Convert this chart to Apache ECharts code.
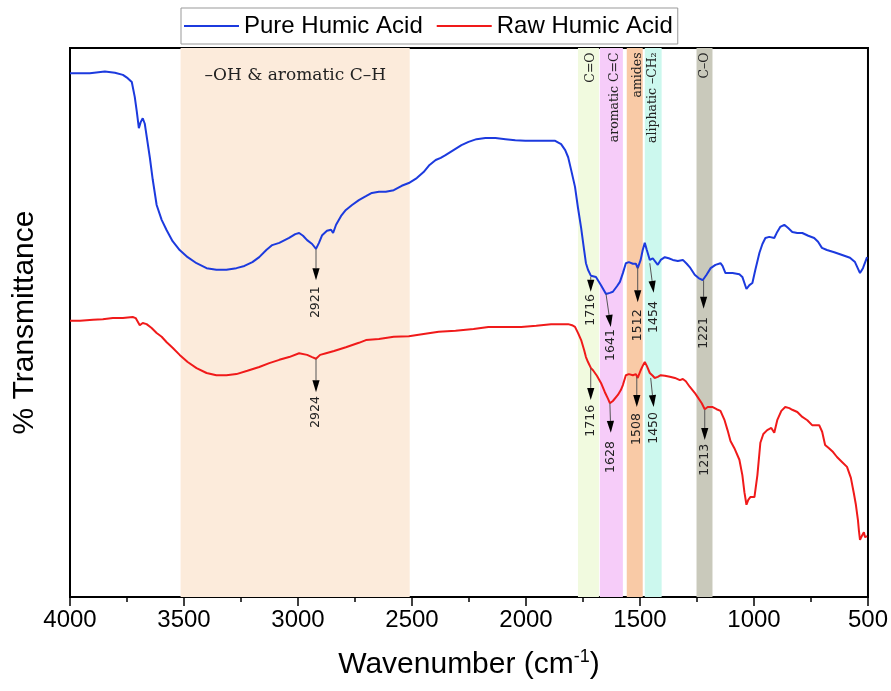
<!DOCTYPE html>
<html><head><meta charset="utf-8">
<script src="https://cdn.jsdelivr.net/npm/echarts@6/dist/echarts.min.js"></script>
<style>html,body{margin:0;padding:0;background:#fff}#c{width:891px;height:691px}</style>
</head><body><div id="c"></div>
<script>
// ---- data ----
const seriesNames = ['Pure Humic Acid', 'Raw Humic Acid'];
const xTickLabels = [4000, 3500, 3000, 2500, 2000, 1500, 1000, 500];

const pureWn = [4000,3913,3847,3803,3768,3747,3729,3716,3707,3698,3690,3681,3672,3668,3650,3637,3620,3598,3576,3550,3519,3484,3445,3401,3358,3314,3270,3235,3200,3170,3139,3113,3082,3039,3012,2995,2978,2960,2938,2921,2908,2894,2873,2855,2846,2833,2811,2790,2763,2733,2702,2676,2645,2615,2580,2545,2514,2479,2449,2423,2396,2374,2353,2318,2283,2252,2217,2178,2134,2090,2047,2003,1959,1916,1872,1846,1828,1815,1802,1785,1772,1758,1745,1737,1728,1715,1693,1671,1649,1632,1619,1601,1588,1575,1562,1549,1531,1518,1510,1497,1488,1479,1470,1457,1444,1436,1422,1409,1391,1374,1356,1334,1312,1295,1282,1260,1243,1225,1208,1190,1169,1147,1138,1125,1094,1064,1051,1033,1020,1007,994,976,963,950,933,911,898,885,867,850,832,810,788,762,736,719,702,680,648,613,579,557,535,522,504];
const pureT = [95.4,95.4,95.7,95.5,95.1,94.5,93.8,91.1,88.4,85.4,86.5,87.2,86.2,85.1,80.1,76.0,71.4,68.7,66.8,64.8,63.2,61.9,60.8,59.9,59.6,59.6,59.9,60.3,61.0,61.9,63.2,64.1,64.5,65.4,66.1,66.3,65.8,65.0,64.3,63.4,64.5,65.9,66.7,66.9,66.3,67.8,69.4,70.5,71.4,72.3,73.0,73.6,73.8,73.8,74.1,74.9,75.4,76.3,77.4,78.7,79.6,80.0,80.5,81.4,82.3,82.9,83.4,83.6,83.6,83.4,83.2,83.1,83.1,83.1,83.1,82.5,81.4,80.1,77.8,74.7,70.9,67.2,63.2,60.8,59.6,58.5,58.3,56.8,55.2,55.4,55.6,56.6,57.4,59.0,60.8,61.0,60.7,60.7,59.9,61.4,63.2,64.5,63.2,61.4,61.7,61.4,60.5,61.4,61.9,61.7,61.4,61.2,61.4,60.7,60.1,58.7,58.1,57.7,58.7,59.9,60.5,60.8,60.3,59.0,59.0,58.8,58.3,56.1,56.8,57.2,59.6,62.7,64.3,65.4,65.6,65.4,66.5,67.4,67.8,67.2,66.5,66.3,66.3,65.8,65.4,64.7,63.6,63.2,62.8,62.3,61.8,61.0,59.0,59.9,61.9];

const rawWn = [4000,3956,3899,3856,3812,3768,3725,3712,3694,3681,3664,3642,3620,3598,3576,3550,3519,3484,3445,3401,3358,3314,3270,3222,3170,3126,3082,3039,2995,2960,2938,2921,2903,2877,2842,2790,2733,2702,2645,2580,2514,2449,2383,2309,2230,2165,2099,2021,1955,1890,1850,1815,1798,1785,1772,1758,1745,1737,1728,1715,1706,1689,1671,1654,1640,1632,1619,1597,1584,1575,1562,1549,1531,1518,1510,1497,1488,1479,1470,1457,1444,1436,1422,1409,1391,1369,1347,1325,1312,1299,1282,1260,1247,1229,1216,1203,1181,1164,1147,1129,1116,1103,1086,1064,1051,1042,1033,1025,1016,998,985,972,959,942,924,911,898,880,863,845,832,810,788,766,745,714,701,688,671,653,636,614,592,575,562,553,544,540,535,527,518,513,504];
const rawT = [50.3,50.3,50.5,50.6,50.8,50.8,51.0,50.8,49.5,49.9,49.7,49.0,48.1,47.4,46.4,45.4,44.1,42.8,41.7,40.8,40.4,40.4,40.6,41.2,41.9,42.6,43.2,43.7,44.4,44.1,43.7,43.4,44.1,44.4,44.8,45.5,46.3,46.8,47.0,47.4,47.5,47.9,48.3,48.5,48.8,49.2,49.2,49.2,49.4,49.7,49.7,49.7,49.5,49.2,48.1,46.8,45.0,43.7,42.8,41.7,41.3,40.3,39.0,37.3,36.1,35.3,35.7,36.8,37.7,38.6,40.4,40.6,40.4,40.6,39.9,41.3,42.1,42.8,42.1,40.8,40.3,39.9,40.1,40.4,40.3,40.1,39.9,39.5,39.7,39.3,38.3,37.2,36.4,35.3,34.2,34.6,34.6,34.2,33.9,32.2,30.4,28.4,27.1,25.0,22.2,19.1,16.8,17.7,18.2,18.2,22.2,28.1,29.7,30.4,30.8,29.9,32.2,33.9,34.6,34.4,34.1,33.7,32.8,32.2,31.3,31.3,30.1,27.7,27.1,26.4,25.5,24.6,23.7,21.7,18.9,16.8,14.0,12.2,10.4,11.1,11.8,10.9,11.1];

// assignment bands (wavenumber ranges)
const bandNames = ['–OH & aromatic C–H', 'C=O', 'aromatic C=C', 'amides', 'aliphatic –CH₂', 'C–O'];
const bandFrom = [3515, 1772, 1676, 1558, 1479, 1252];
const bandTo = [2510, 1680, 1575, 1488, 1405, 1182];

// peak annotations
const peakLabels = ['2921','1716','1641','1512','1454','1221','2924','1716','1628','1508','1450','1213'];
const peakFromWn = [2921,1716,1649,1510,1457,1221, 2921,1716,1632,1514,1453,1216];
const peakFromT  = [63.4,58.3,55.2,60.1,60.8,57.7, 43.4,41.7,35.3,40.1,39.9,34.1];

// ---- layout (positions in data units) ----
const peakTipWn = [2921,1716,1628,1510,1440,1221, 2921,1716,1628,1514,1440,1216];
const peakTipT  = [57.7,55.6,49.2,53.7,55.4,52.5, 37.3,35.9,29.9,34.6,34.6,28.6];
const peakTextT = [53.7,52.3,45.9,49.5,51.0,48.1, 33.7,32.1,25.5,30.6,30.8,25.0];
const bandLabelWn = [3012, 1715, 1610, 1509, 1444, 1217];
const bandLabelT = [94.9, 99.2, 99.2, 99.2, 99.2, 99.2];

// ---- styles ----
const bandColors = ['#fcebdb', '#f1fadf', '#f6ccf9', '#f9caa6', '#ccf8ee', '#c9c9bb'];
const lineColors = ['#1c3ade', '#f01a1a'];

const chart = echarts.init(document.getElementById('c'), null, {renderer: 'canvas'});

function bandItem(params, api) {
  const i = params.dataIndex;
  const p1 = api.coord([bandFrom[i], 100]);
  const p2 = api.coord([bandTo[i], 0]);
  const x = Math.min(p1[0], p2[0]);
  const w = Math.abs(p2[0] - p1[0]);
  const lp = api.coord([bandLabelWn[i], bandLabelT[i]]);
  const children = [{
    type: 'rect', shape: {x: x, y: p1[1], width: w, height: p2[1] - p1[1]},
    style: {fill: bandColors[i]}
  }];
  if (i === 0) {
    children.push({type: 'text', x: lp[0], y: lp[1], style: {
      text: bandNames[i], fontFamily: 'DejaVu Serif', fontSize: 17, fill: '#222',
      align: 'center', verticalAlign: 'middle'}});
  } else {
    children.push({type: 'text', x: lp[0], y: lp[1], rotation: Math.PI / 2, style: {
      text: bandNames[i], fontFamily: 'DejaVu Serif', fontSize: 12.5, fill: '#222',
      align: 'right', verticalAlign: 'middle'}});
  }
  return {type: 'group', children: children};
}

function peakItem(params, api) {
  const i = params.dataIndex;
  const p0 = api.coord([peakFromWn[i], peakFromT[i]]);
  const p1 = api.coord([peakTipWn[i], peakTipT[i]]);
  const pt = api.coord([peakTipWn[i], peakTextT[i]]);
  const dx = p1[0] - p0[0], dy = p1[1] - p0[1];
  const len = Math.hypot(dx, dy) || 1;
  const ux = dx / len, uy = dy / len;
  const hl = 12, hw = 3.6;
  const b = [p1[0] - ux * hl, p1[1] - uy * hl];
  const nx = -uy, ny = ux;
  return {type: 'group', children: [
    {type: 'line', shape: {x1: p0[0], y1: p0[1], x2: b[0], y2: b[1]},
     style: {stroke: '#555', lineWidth: 1}},
    {type: 'polygon', shape: {points: [[p1[0], p1[1]], [b[0] + nx * hw, b[1] + ny * hw], [b[0] - nx * hw, b[1] - ny * hw]]},
     style: {fill: '#000'}},
    {type: 'text', x: pt[0], y: pt[1], rotation: Math.PI / 2, style: {
      text: peakLabels[i], fontFamily: 'DejaVu Sans', fontSize: 12.5, fill: '#222',
      align: 'center', verticalAlign: 'middle'}}
  ]};
}

const option = {
  animation: false,
  backgroundColor: '#fff',
  grid: {left: 70, right: 20, top: 48, bottom: 94, show: true, borderColor: '#000', borderWidth: 2},
  legend: {
    top: 8, left: 181, padding: [6, 5, 6, 3], itemGap: 14, itemWidth: 55, itemHeight: 2,
    icon: 'rect',
    borderColor: '#999', borderWidth: 1,
    textStyle: {fontFamily: 'Liberation Sans', fontSize: 24, color: '#000'},
    data: seriesNames
  },
  xAxis: {
    type: 'value', min: 500, max: 4000, interval: 500, inverse: true,
    axisLine: {show: true, onZero: false, lineStyle: {color: '#000', width: 2}},
    axisTick: {show: true, length: 9, lineStyle: {color: '#000', width: 1.5}},
    minorTick: {show: true, splitNumber: 2, length: 5, lineStyle: {color: '#000', width: 1.5}},
    splitLine: {show: false},
    axisLabel: {fontFamily: 'Liberation Sans', fontSize: 24, color: '#000', margin: 11,
      formatter: v => xTickLabels.includes(v) ? String(v) : ''},
    name: '{n|Wavenumber (cm}{s|-1}{n|)}', nameLocation: 'middle', nameGap: 51,
    nameTextStyle: {rich: {
      n: {fontFamily: 'Liberation Sans', fontSize: 30, color: '#000', lineHeight: 34},
      s: {fontFamily: 'Liberation Sans', fontSize: 18, color: '#000', verticalAlign: 'top', lineHeight: 34}
    }}
  },
  yAxis: {
    type: 'value', min: 0, max: 100,
    axisLine: {show: true, lineStyle: {color: '#000', width: 2}},
    axisTick: {show: false}, axisLabel: {show: false}, splitLine: {show: false},
    name: '% Transmittance', nameLocation: 'middle', nameGap: 30,
    nameTextStyle: {fontFamily: 'Liberation Sans', fontSize: 30, color: '#000'}
  },
  series: [
    {type: 'custom', name: 'bands', z: 1, silent: true, renderItem: bandItem,
     data: bandFrom.map((f, i) => [f, bandTo[i]]), encode: {x: [0, 1]}},
    {type: 'line', name: seriesNames[0], z: 3, symbol: 'none', showSymbol: false,
     lineStyle: {color: lineColors[0], width: 2}, itemStyle: {color: lineColors[0]},
     data: pureWn.map((w, i) => [w, pureT[i]])},
    {type: 'line', name: seriesNames[1], z: 3, symbol: 'none', showSymbol: false,
     lineStyle: {color: lineColors[1], width: 2}, itemStyle: {color: lineColors[1]},
     data: rawWn.map((w, i) => [w, rawT[i]])},
    {type: 'custom', name: 'peaks', z: 4, silent: true, renderItem: peakItem,
     data: peakTipWn.map((w, i) => [w, peakTipT[i]]), encode: {x: 0, y: 1}}
  ]
};
chart.setOption(option);
</script></body></html>
